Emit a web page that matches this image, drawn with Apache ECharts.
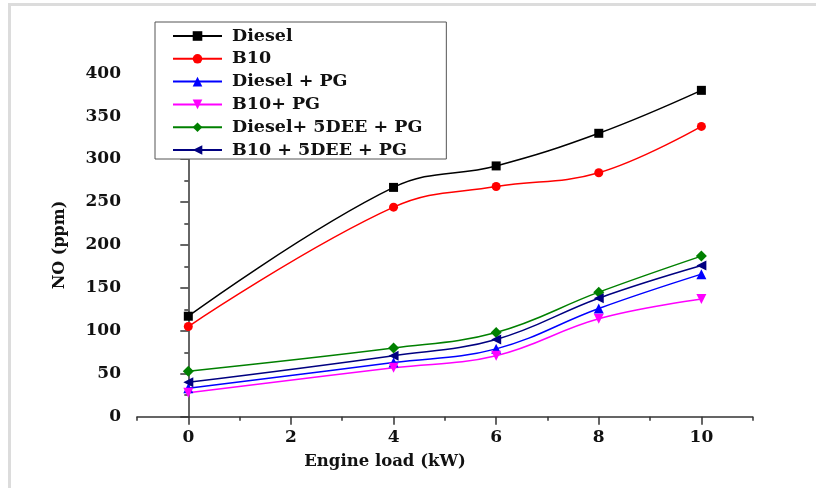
<!DOCTYPE html>
<html>
<head>
<meta charset="utf-8">
<script src="https://cdn.jsdelivr.net/npm/echarts@6/dist/echarts.min.js"></script>
<style>
  html, body { margin: 0; padding: 0; background: #fff; }
  #chart { width: 816px; height: 488px; }
</style>
</head>
<body>
<div id="chart"></div>
<script>
// engine load (kW)
const loads = [0, 4, 6, 8, 10];

// NO (ppm)
const diesel = [117, 267, 292, 330, 380];
const b10 = [105, 244, 268, 284, 338];
const dieselPG = [33, 63, 79, 126, 166];
const b10PG = [28, 57, 71, 114, 137];
const dieselDeePG = [53, 80, 98, 145, 187];
const b10DeePG = [40, 71, 90, 138, 176];

const seriesDefs = [
  { name: 'Diesel', data: diesel, color: '#000000', symbol: 'rect', size: 9, rotate: 0 },
  { name: 'B10', data: b10, color: '#ff0000', symbol: 'circle', size: 9, rotate: 0 },
  { name: 'Diesel + PG', data: dieselPG, color: '#0000ff', symbol: 'triangle', size: 10, rotate: 0 },
  { name: 'B10+ PG', data: b10PG, color: '#ff00ff', symbol: 'triangle', size: 10, rotate: 180 },
  { name: 'Diesel+ 5DEE + PG', data: dieselDeePG, color: '#008000', symbol: 'diamond', size: 11, rotate: 0 },
  { name: 'B10 + 5DEE + PG', data: b10DeePG, color: '#000080', symbol: 'triangle', size: 10, rotate: 90 },
];

const font = 'DejaVu Serif';
const axisColor = '#333333';

const chart = echarts.init(document.getElementById('chart'));

chart.setOption({
  animation: false,
  backgroundColor: '#fff',
  graphic: [
    {
      type: 'rect',
      shape: { x: 9.5, y: 4.5, width: 900, height: 600 },
      style: { fill: 'none', stroke: '#dcdcdc', lineWidth: 3 },
      silent: true,
    },
    {
      type: 'text',
      x: 385, y: 462,
      style: {
        text: 'Engine load (kW)', font: 'bold 16.5px "DejaVu Serif"',
        fill: '#111', align: 'center', verticalAlign: 'middle',
      },
    },
    {
      type: 'text',
      x: 60, y: 245, rotation: Math.PI / 2,
      style: {
        text: 'NO (ppm)', font: 'bold 16px "DejaVu Serif"',
        fill: '#111', align: 'center', verticalAlign: 'middle',
      },
    },
  ],
  legend: {
    orient: 'vertical',
    left: 155,
    top: 22,
    selectedMode: false,
    backgroundColor: '#fff',
    borderColor: '#555',
    borderWidth: 1,
    padding: [5, 24, 0, 17],
    itemWidth: 49,
    itemHeight: 12,
    itemGap: 4.8,
    textStyle: {
      fontFamily: font, fontWeight: 'bold', fontSize: 17.5, color: '#111',
      lineHeight: 16, padding: [0, 0, 0, 5],
    },
    data: seriesDefs.map(s => s.name),
  },
  grid: [
    { left: 137, right: 63.3, top: 51.7, bottom: 71.3 },
    { left: 188.3, right: 114.6, top: 73.2, bottom: 71.3 },
  ],
  xAxis: [
    {
      type: 'value', gridIndex: 0, min: -1, max: 11, interval: 1,
      axisLine: { show: true, lineStyle: { color: axisColor, width: 1.5 } },
      axisTick: { show: true, length: 4, lineStyle: { color: axisColor, width: 1.5 } },
      axisLabel: { show: false },
      splitLine: { show: false },
    },
    {
      type: 'value', gridIndex: 1, min: 0, max: 10, interval: 2,
      axisLine: { show: false },
      axisTick: { show: true, length: 8, lineStyle: { color: axisColor, width: 1.5 } },
      axisLabel: {
        margin: 12, fontFamily: font, fontWeight: 'bold', fontSize: 17, color: '#111',
      },
      splitLine: { show: false },
    },
  ],
  yAxis: [
    {
      type: 'value', gridIndex: 0, min: 0, max: 425, interval: 25,
      axisLine: { show: true, lineStyle: { color: axisColor, width: 1.5 } },
      axisTick: { show: true, length: 4, lineStyle: { color: axisColor, width: 1.5 } },
      axisLabel: { show: false },
      splitLine: { show: false },
    },
    {
      type: 'value', gridIndex: 1, min: 0, max: 400, interval: 50, offset: 51.3,
      axisLine: { show: false },
      axisTick: { show: true, length: 8, lineStyle: { color: axisColor, width: 1.5 } },
      axisLabel: {
        margin: 16, fontFamily: font, fontWeight: 'bold', fontSize: 17, color: '#111',
      },
      splitLine: { show: false },
    },
  ],
  series: seriesDefs.map(s => ({
    name: s.name,
    type: 'line',
    xAxisIndex: 0,
    yAxisIndex: 0,
    smooth: 0.4,
    symbol: s.symbol,
    symbolSize: s.size,
    symbolRotate: s.rotate,
    color: s.color,
    lineStyle: { color: s.color, width: 1.5 },
    itemStyle: { color: s.color },
    data: loads.map((x, i) => [x, s.data[i]]),
  })),
});
</script>
</body>
</html>
